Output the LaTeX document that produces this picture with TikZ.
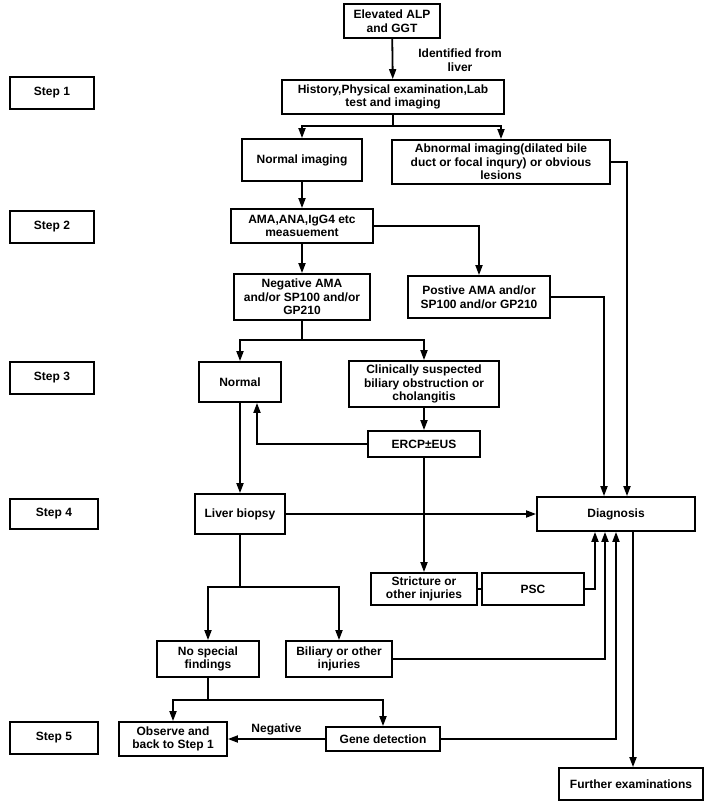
\documentclass[tikz,border=0pt]{standalone}
\usepackage{fontspec}
\setmainfont{Liberation Sans}
\usetikzlibrary{arrows.meta}
\begin{document}
\begin{tikzpicture}[x=1pt,y=-1pt,line width=1.8pt,
    box/.style={draw,line width=1.8pt,align=center,inner sep=1pt,
      font=\bfseries\fontsize{12}{13.7}\selectfont},
    txt/.style={align=center,inner sep=1pt,font=\bfseries\fontsize{12}{13.7}\selectfont},
    arr/.style={-{Triangle[length=10pt,width=7pt]}}]
  \useasboundingbox (0,0) rectangle (708,805);
  \draw
    (392,21) node[box,minimum width=96pt,minimum height=34pt] (alp){Elevated ALP\\and GGT}
    (460,60) node[txt] (ident){Identified from\\liver}
    (393,97) node[box,minimum width=222pt,minimum height=34pt] (hist){History,Physical examination,Lab\\test and imaging}
    (302,160) node[box,minimum width=120pt,minimum height=42pt] (normimg){Normal imaging}
    (501,162) node[box,minimum width=218pt,minimum height=44pt] (abnimg){Abnormal imaging(dilated bile\\duct or focal inqury) or obvious\\lesions}
    (302,226) node[box,minimum width=142pt,minimum height=34pt] (ama){AMA,ANA,IgG4 etc\\measuement}
    (302,297) node[box,minimum width=136pt,minimum height=46pt] (neg){Negative AMA\\and/or SP100 and/or\\GP210}
    (479,297) node[box,minimum width=142pt,minimum height=42pt] (pos){Postive AMA and/or\\SP100 and/or GP210}
    (240,382) node[box,minimum width=82pt,minimum height=40pt] (normal){Normal}
    (424,384) node[box,minimum width=150pt,minimum height=46pt] (clin){Clinically suspected\\biliary obstruction or\\cholangitis}
    (424,444) node[box,minimum width=112pt,minimum height=26pt] (ercp){ERCP±EUS}
    (240,514) node[box,minimum width=90pt,minimum height=40pt] (biopsy){Liver biopsy}
    (616,514) node[box,minimum width=158pt,minimum height=34pt] (diag){Diagnosis}
    (424,589) node[box,minimum width=106pt,minimum height=32pt] (strict){Stricture or\\other injuries}
    (533,589) node[box,minimum width=102pt,minimum height=32pt] (psc){PSC}
    (208,659) node[box,minimum width=102pt,minimum height=36pt] (nospec){No special\\findings}
    (339,659) node[box,minimum width=106pt,minimum height=36pt] (biliary){Biliary or other\\injuries}
    (173,739) node[box,minimum width=108pt,minimum height=34pt] (observe){Observe and\\back to Step 1}
    (383,739) node[box,minimum width=114pt,minimum height=24pt] (gene){Gene detection}
    (631,784) node[box,minimum width=144pt,minimum height=32pt] (further){Further examinations}
    (52,93) node[box,minimum width=84pt,minimum height=32pt] (step1){Step 1}
    (52,227) node[box,minimum width=84pt,minimum height=32pt] (step2){Step 2}
    (52,378) node[box,minimum width=84pt,minimum height=32pt] (step3){Step 3}
    (54,514) node[box,minimum width=88pt,minimum height=30pt] (step4){Step 4}
    (54,738) node[box,minimum width=88pt,minimum height=32pt] (step5){Step 5};
  \coordinate (b1) at (393,126);
  \coordinate (b2) at (302,340);
  \coordinate (b3) at (240,587);
  \coordinate (b4) at (208,700);
  \begin{scope}[arr]
    \draw (alp) to (hist);
    \draw[-] (hist) to (b1);
    \draw (b1) -| (normimg);
    \draw (b1) -| (abnimg);
    \draw (normimg) to (ama);
    \draw (ama) to (neg);
    \draw (ama) -| (pos);
    \draw (abnimg) -| ([xshift=11pt]diag.north);
    \draw (pos) -| ([xshift=-12pt]diag.north);
    \draw[-] (neg) to (b2);
    \draw (b2) -| (normal);
    \draw (b2) -| (clin);
    \draw (clin) to (ercp);
    \draw (ercp) -| ([xshift=17pt]normal.south);
    \draw (normal) to (biopsy);
    \draw (biopsy) to (diag);
    \draw (ercp) to (strict);
    \draw[-] (strict) to (psc);
    \draw (psc) -| ([xshift=-21pt]diag.south);
    \draw[-] (biopsy) to (b3);
    \draw (b3) -| (nospec);
    \draw (b3) -| (biliary);
    \draw (biliary) -| ([xshift=-11pt]diag.south);
    \draw[-] (nospec) to (b4);
    \draw (b4) -| (observe);
    \draw (b4) -| (gene);
    \draw (gene) to node[txt,above=2pt] (negl){Negative} (observe);
    \draw (gene) -| (diag);
    \draw ([xshift=17pt]diag.south) to ([xshift=17pt]diag.south |- further.north);
  \end{scope}
\end{tikzpicture}
\end{document}
